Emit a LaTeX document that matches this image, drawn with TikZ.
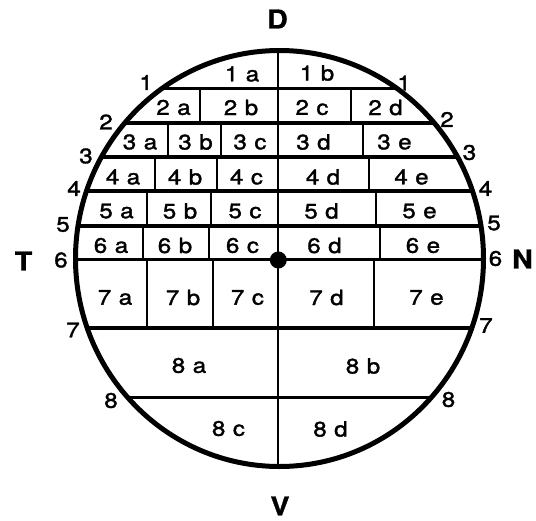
\documentclass[tikz,border=0pt]{standalone}
\usepackage{fontspec}
\setmainfont{TeX Gyre Heros}[FakeStretch=1.15]
\newfontfamily\labfont{TeX Gyre Heros}[FakeStretch=1.15,FakeBold=1.6]
\newfontfamily\dirfont{TeX Gyre Heros}[FakeStretch=1.1,FakeBold=1.0]
\begin{document}
\begin{tikzpicture}[x=1pt,y=-1pt,
  lab/.style={inner sep=0pt,font=\labfont\fontsize{21}{23}\selectfont},
  big/.style={inner sep=0pt,font=\dirfont\fontsize{26}{28}\selectfont\bfseries},
  hline/.style={line width=3.2pt},
  vline/.style={line width=2.3pt},
  rim/.style={line width=5pt}]
\useasboundingbox (0,0) rectangle (536,520);
\newcommand\cl[2]{#1\hspace{7.5pt}#2}
\begin{scope}
  \clip (279.5,258.5) ellipse [x radius=204, y radius=208];
  \foreach \yy in {88.5,123,157,191,226,259.5,328,397.5}
    \draw[hline] (50,\yy) -- (510,\yy);
  \draw[vline] (278.3,40) -- (278.3,480);
  % row 2
  \draw[vline] (200,88.5) -- (200,123) (351,88.5) -- (351,123);
  % row 3
  \draw[vline] (168,123) -- (168,157) (221,123) -- (221,157) (363,123) -- (363,157);
  % row 4
  \draw[vline] (155,157) -- (155,191) (217,157) -- (217,191) (369,157) -- (369,191);
  % row 5
  \draw[vline] (147,191) -- (147,226) (211,191) -- (211,226) (376,191) -- (376,226);
  % row 6
  \draw[vline] (143,226) -- (143,259.5) (209,226) -- (209,259.5) (380,226) -- (380,259.5);
  % row 7
  \draw[vline] (147,259.5) -- (147,328) (213,259.5) -- (213,328) (374,259.5) -- (374,328);
\end{scope}
\draw[rim] (279.5,258.5) ellipse [x radius=204, y radius=208];
\fill (278.3,260) circle [radius=8.5];
% cell labels
\node[lab] (c1a) at (242,74) {\cl{1}{a}};
\node[lab] (c1b) at (317,73) {\cl{1}{b}};
\node[lab] (c2a) at (173.5,107.5) {\cl{2}{a}};
\node[lab] (c2b) at (241,107.5) {\cl{2}{b}};
\node[lab] (c2c) at (312,107.5) {\cl{2}{c}};
\node[lab] (c2d) at (385.5,107.5) {\cl{2}{d}};
\node[lab] (c3a) at (140,142) {\cl{3}{a}};
\node[lab] (c3b) at (195.5,142) {\cl{3}{b}};
\node[lab] (c3c) at (250,142) {\cl{3}{c}};
\node[lab] (c3d) at (313.5,142) {\cl{3}{d}};
\node[lab] (c3e) at (394.5,142) {\cl{3}{e}};
\node[lab] (c4a) at (123,177) {\cl{4}{a}};
\node[lab] (c4b) at (185,177) {\cl{4}{b}};
\node[lab] (c4c) at (246.5,177) {\cl{4}{c}};
\node[lab] (c4d) at (323,177) {\cl{4}{d}};
\node[lab] (c4e) at (411.5,177) {\cl{4}{e}};
\node[lab] (c5a) at (116.5,211) {\cl{5}{a}};
\node[lab] (c5b) at (180,211) {\cl{5}{b}};
\node[lab] (c5c) at (245,211) {\cl{5}{c}};
\node[lab] (c5d) at (321.5,211) {\cl{5}{d}};
\node[lab] (c5e) at (419.5,211) {\cl{5}{e}};
\node[lab] (c6a) at (111,245.5) {\cl{6}{a}};
\node[lab] (c6b) at (175,245.5) {\cl{6}{b}};
\node[lab] (c6c) at (242.5,245.5) {\cl{6}{c}};
\node[lab] (c6d) at (324.5,245.5) {\cl{6}{d}};
\node[lab] (c6e) at (423,245.5) {\cl{6}{e}};
\node[lab] (c7a) at (115,297.5) {\cl{7}{a}};
\node[lab] (c7b) at (183,297.5) {\cl{7}{b}};
\node[lab] (c7c) at (247.5,297.5) {\cl{7}{c}};
\node[lab] (c7d) at (326.5,297.5) {\cl{7}{d}};
\node[lab] (c7e) at (426.5,297.5) {\cl{7}{e}};
\node[lab] (c8a) at (189,365.5) {\cl{8}{a}};
\node[lab] (c8b) at (363,366) {\cl{8}{b}};
\node[lab] (c8c) at (228.5,428.5) {\cl{8}{c}};
\node[lab] (c8d) at (330.5,429) {\cl{8}{d}};
% rim numbers
\node[lab] (l1) at (146,82.5) {1};
\node[lab] (r1) at (404,83) {1};
\node[lab] (l2) at (106,122) {2};
\node[lab] (r2) at (447,119.5) {2};
\node[lab] (l3) at (86,156) {3};
\node[lab] (r3) at (469.5,152.5) {3};
\node[lab] (l4) at (74,188.5) {4};
\node[lab] (r4) at (485.5,188.5) {4};
\node[lab] (l5) at (63,224.5) {5};
\node[lab] (r5) at (494,223) {5};
\node[lab] (l6) at (61,260) {6};
\node[lab] (r6) at (495.5,258.5) {6};
\node[lab] (l7) at (73,330) {7};
\node[lab] (r7) at (486,325.5) {7};
\node[lab] (l8) at (111,400.5) {8};
\node[lab] (r8) at (448.5,399.5) {8};
% directions
\node[big] (D) at (277.5,19) {D};
\node[big] (V) at (280,506) {V};
\node[big] (T) at (23.5,261) {T};
\node[big] (N) at (522.5,259) {N};
\end{tikzpicture}
\end{document}
